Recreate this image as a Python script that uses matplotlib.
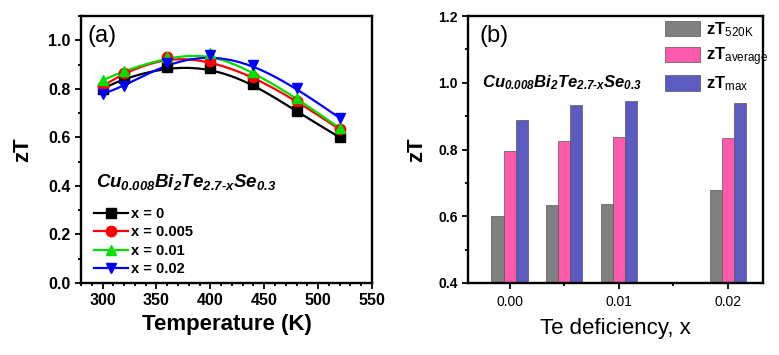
import numpy as np
import matplotlib
matplotlib.use('Agg')
import matplotlib.pyplot as plt
from matplotlib.lines import Line2D
from matplotlib.ticker import MultipleLocator, FormatStrFormatter

plt.rcParams['font.family'] = ['Liberation Sans', 'DejaVu Sans']
plt.rcParams['mathtext.fontset'] = 'custom'
# digits inside \mathit fall back to the "rm" font, so rm is bold italic too
plt.rcParams['mathtext.rm'] = 'Liberation Sans:italic:bold'
plt.rcParams['mathtext.it'] = 'Liberation Sans:italic:bold'
plt.rcParams['mathtext.bf'] = 'Liberation Sans:bold'
plt.rcParams['mathtext.sf'] = 'Liberation Sans'

# panel (a) data
temp = [300, 320, 360, 400, 440, 480, 520]
zt_x0 = [0.80, 0.843, 0.89, 0.887, 0.82, 0.707, 0.60]
zt_x0005 = [0.81, 0.866, 0.932, 0.915, 0.85, 0.75, 0.633]
zt_x001 = [0.835, 0.874, 0.93, 0.946, 0.868, 0.762, 0.638]
zt_x002 = [0.778, 0.812, 0.905, 0.940, 0.900, 0.802, 0.680]
series_labels = ['x = 0', 'x = 0.005', 'x = 0.01', 'x = 0.02']

# panel (b) data
te_def = [0.0, 0.005, 0.01, 0.02]
zt_520k = [0.60, 0.633, 0.638, 0.68]
zt_avg = [0.795, 0.826, 0.837, 0.834]
zt_max = [0.889, 0.932, 0.946, 0.940]
bar_labels = [r'zT$_{\mathsf{520K}}$', r'zT$_{\mathsf{average}}$', r'zT$_{\mathsf{max}}$']

formula = r'$\mathit{Cu_{0.008}Bi_{2}Te_{2.7‐x}Se_{0.3}}$'


def bspline(xs, ys, n=30):
    # uniform cubic B-spline with clamped ends (like Origin's B-spline line)
    px = np.r_[[xs[0]] * 2, xs, [xs[-1]] * 2].astype(float)
    py = np.r_[[ys[0]] * 2, ys, [ys[-1]] * 2].astype(float)
    t = np.linspace(0, 1, n)
    b0 = (1 - t) ** 3 / 6
    b1 = (3 * t ** 3 - 6 * t ** 2 + 4) / 6
    b2 = (-3 * t ** 3 + 3 * t ** 2 + 3 * t + 1) / 6
    b3 = t ** 3 / 6
    ox, oy = [], []
    for i in range(len(px) - 3):
        ox.append(b0 * px[i] + b1 * px[i + 1] + b2 * px[i + 2] + b3 * px[i + 3])
        oy.append(b0 * py[i] + b1 * py[i + 1] + b2 * py[i + 2] + b3 * py[i + 3])
    return np.concatenate(ox), np.concatenate(oy)


fig = plt.figure(figsize=(7.79, 3.55), dpi=100)
ax1 = fig.add_axes([81 / 779, 1 - 283 / 355, 291 / 779, 267 / 355])
ax2 = fig.add_axes([468 / 779, 1 - 283 / 355, 295 / 779, 267 / 355])

# ---- panel (a)
colors = ['black', '#ff0000', '#00e000', '#0000ff']
markers = ['s', 'o', '^', 'v']
handles = []
for ys, c, m, lab in zip([zt_x0, zt_x0005, zt_x001, zt_x002], colors, markers, series_labels):
    sx, sy = bspline(temp, ys)
    ax1.plot(sx, sy, color=c, lw=1.6, zorder=2)
    ax1.plot(temp, ys, ls='none', marker=m, color=c, ms=7.5, zorder=3)
    handles.append(Line2D([], [], color=c, lw=1.6, marker=m, ms=7.5, label=lab))

ax1.set_xlim(280, 550)
ax1.set_ylim(0, 1.1)
ax1.xaxis.set_major_locator(MultipleLocator(50))
ax1.xaxis.set_minor_locator(MultipleLocator(10))
ax1.yaxis.set_major_locator(MultipleLocator(0.2))
ax1.yaxis.set_minor_locator(MultipleLocator(0.1))
ax1.yaxis.set_major_formatter(FormatStrFormatter('%.1f'))
ax1.set_xlabel('Temperature (K)', fontsize=16, fontweight='bold', labelpad=4)
ax1.set_ylabel('zT', fontsize=16, fontweight='bold')
ax1.yaxis.set_label_coords(-0.165, 0.5)
ax1.legend(handles=handles, loc='upper left', bbox_to_anchor=(0.045, 0.285), frameon=False,
           prop={'weight': 'bold', 'size': 10.5}, handlelength=2.3, handletextpad=0.2,
           labelspacing=0.31, borderpad=0, borderaxespad=0)
ax1.text(0.052, 0.36, formula, transform=ax1.transAxes, fontsize=13.5, va='baseline', ha='left')
ax1.text(0.024, 0.925, '(a)', transform=ax1.transAxes, fontsize=17, va='center', ha='left')

# ---- panel (b)
w = 0.0011
bx = np.array(te_def)
bar_colors = ['#808080', '#ff5aac', '#5b5bc2']
for k, (vals, c, lab) in enumerate(zip([zt_520k, zt_avg, zt_max], bar_colors, bar_labels)):
    ax2.bar(bx + (k - 1) * w, np.array(vals) - 0.4, bottom=0.4, width=w, color=c,
            edgecolor='#555555', lw=0.5, label=lab)

ax2.set_xlim(-0.0038, 0.0232)
ax2.set_ylim(0.4, 1.2)
ax2.xaxis.set_major_locator(MultipleLocator(0.01))
ax2.xaxis.set_minor_locator(MultipleLocator(0.005))
ax2.yaxis.set_major_locator(MultipleLocator(0.2))
ax2.yaxis.set_minor_locator(MultipleLocator(0.1))
ax2.xaxis.set_major_formatter(FormatStrFormatter('%.2f'))
ax2.yaxis.set_major_formatter(FormatStrFormatter('%.1f'))
ax2.set_xlabel('Te deficiency, x', fontsize=16, labelpad=6)
ax2.set_ylabel('zT', fontsize=16, fontweight='bold')
ax2.yaxis.set_label_coords(-0.14, 0.5)
ax2.legend(loc='upper left', bbox_to_anchor=(0.668, 0.985), frameon=False,
           prop={'weight': 'bold', 'size': 12}, handlelength=2.1, handleheight=1.05,
           handletextpad=0.35, labelspacing=0.4, borderpad=0, borderaxespad=0)
ax2.text(0.046, 0.733, formula, transform=ax2.transAxes, fontsize=12, va='baseline', ha='left')
ax2.text(0.04, 0.925, '(b)', transform=ax2.transAxes, fontsize=17, va='center', ha='left')

for ax in (ax1, ax2):
    for s in ax.spines.values():
        s.set_linewidth(1.7)
    ax.tick_params(which='both', direction='out', width=1.3)
    ax.tick_params(which='major', length=4)
    ax.tick_params(which='minor', length=2.5)

ax1.tick_params(labelsize=11.5)
for lab in ax1.get_xticklabels() + ax1.get_yticklabels():
    lab.set_fontweight('bold')
ax2.tick_params(labelsize=10)
ax2.tick_params(axis='x', pad=5)
for lab in ax2.get_yticklabels():
    lab.set_fontweight('bold')

fig.savefig('out.png', dpi=100)
